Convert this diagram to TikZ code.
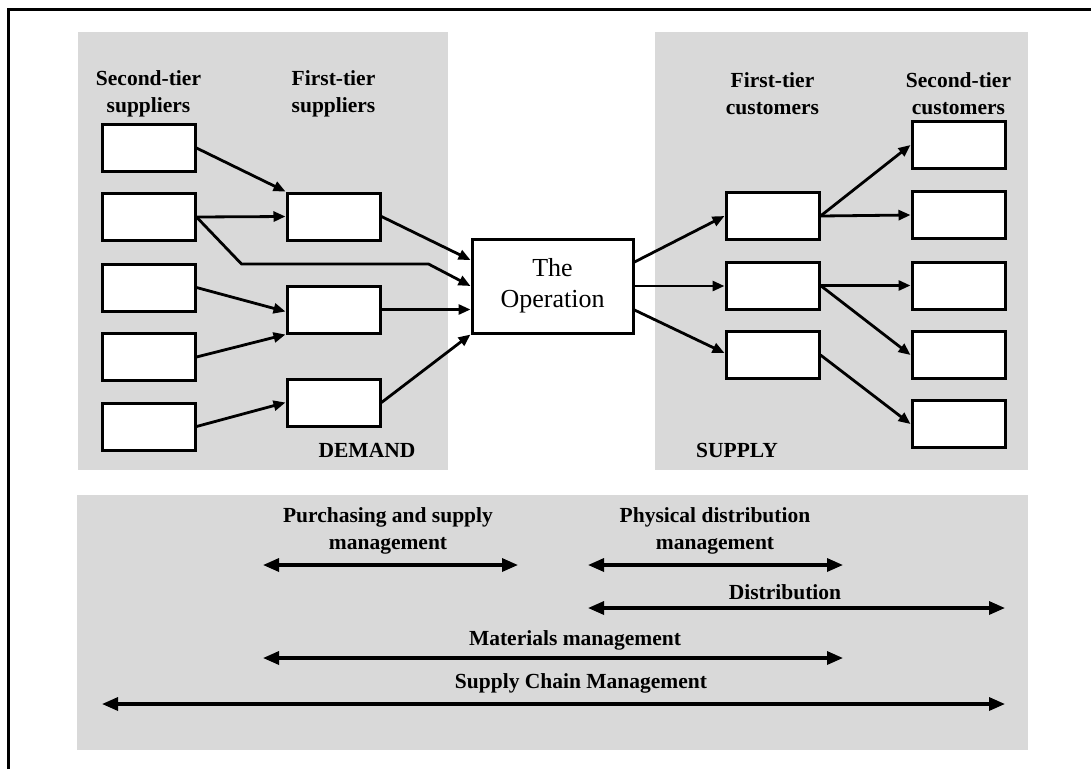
\documentclass[tikz,border=0pt]{standalone}
\usepackage{fontspec}
\setmainfont{Liberation Serif}
\usetikzlibrary{arrows.meta}
\definecolor{panel}{gray}{0.85}
\begin{document}
\begin{tikzpicture}[x=1pt,y=-1pt,
  panelfill/.style={fill=panel,draw=none},
  tierbox/.style={draw,line width=3pt,fill=white,minimum width=93pt,minimum height=47pt,inner sep=0pt},
  opbox/.style={draw,line width=3pt,fill=white,minimum width=161pt,minimum height=94pt,align=center,inner sep=0pt,font=\fontsize{26}{31}\selectfont},
  flow/.style={line width=2.8pt,-{Triangle[length=12pt,width=10pt]}},
  spanarrow/.style={line width=3.2pt,{Triangle[length=16pt,width=13pt]}-{Triangle[length=16pt,width=13pt]}},
  header/.style={align=center,inner sep=0pt,font=\bfseries\fontsize{21.5}{27}\selectfont},
  spantext/.style={align=center,inner sep=0pt,font=\bfseries\fontsize{21.5}{27}\selectfont}]
\useasboundingbox (0,0) rectangle (1091,769);

% frame
\draw[line width=3pt] (8,769) -- (8,9) -- (1091,9);

% shaded panels
\fill[panelfill] (78,32) rectangle (448,470);
\fill[panelfill] (655,32) rectangle (1028,470);
\fill[panelfill] (77,495) rectangle (1028,750);

% column headings
\node[header] (hs2) at (148.5,94) {Second-tier\\suppliers};
\node[header] (hs1) at (333.5,94) {First-tier\\suppliers};
\node[header] (hc1) at (772.5,94) {First-tier\\customers};
\node[header] (hc2) at (958.5,94) {Second-tier\\customers};
\node[header] (dem) at (367,450) {DEMAND};
\node[header] (sup) at (737,450) {SUPPLY};

% second-tier suppliers
\node[tierbox] (S1) at (148.5,148) {};
\node[tierbox] (S2) at (148.5,217) {};
\node[tierbox] (S3) at (148.5,287.5) {};
\node[tierbox] (S4) at (148.5,357) {};
\node[tierbox] (S5) at (148.5,426.5) {};
% first-tier suppliers
\node[tierbox] (F1) at (333.5,216.5) {};
\node[tierbox] (F2) at (333.5,309.5) {};
\node[tierbox] (F3) at (333.5,402.5) {};
% the operation
\node[opbox] (Op) at (552.5,286) {The\\Operation};
% first-tier customers
\node[tierbox] (C1) at (772.5,216) {};
\node[tierbox] (C2) at (772.5,285.5) {};
\node[tierbox] (C3) at (772.5,355) {};
% second-tier customers
\node[tierbox] (D1) at (958.5,145) {};
\node[tierbox] (D2) at (958.5,215) {};
\node[tierbox] (D3) at (958.5,285.5) {};
\node[tierbox] (D4) at (958.5,355) {};
\node[tierbox] (D5) at (958.5,424) {};

% supply side flows
\draw[flow] (S1.east) -- (F1.north west);
\draw[flow] (S2.east) -- (F1.west);
\draw[flow] (S2.east) -- ++(45,47) -- ++(187,0) -- (Op.west);
\draw[flow] (S3.east) -- ([yshift=-2pt]F2.west);
\draw[flow] (S4.east) -- (F2.south west);
\draw[flow] (S5.east) -- (F3.west);
\draw[flow] (F1.east) -- ([yshift=26pt]Op.west);
\draw[flow] (F2.east) -- (F2.east -| Op.west);
\draw[flow] (F3.east) -- (Op.south west);

% demand side flows
\draw[flow] ([yshift=24pt]Op.east) -- (C1.west);
\draw[flow] (Op.east) -- (Op.east -| C2.west);
\draw[flow] ([yshift=-24pt]Op.east) -- ([yshift=2pt]C3.west);
\draw[flow] (C1.east) -- (D1.west);
\draw[flow] (C1.east) -- (D2.west);
\draw[flow] (C2.east) -- (D3.west);
\draw[flow] (C2.east) -- (D4.west);
\draw[flow] (C3.east) -- (D5.west);

% management scopes
\coordinate (pa) at (263,565);  \coordinate (pb) at (518,565);
\coordinate (qa) at (588,565);  \coordinate (qb) at (843,565);
\coordinate (da) at (588,608);  \coordinate (db) at (1005,608);
\coordinate (ma) at (263,658);  \coordinate (mb) at (843,658);
\coordinate (ca) at (102,704);  \coordinate (cb) at (1005,704);
\draw[spanarrow] (pa) -- (pb);
\draw[spanarrow] (qa) -- (qb);
\draw[spanarrow] (da) -- (db);
\draw[spanarrow] (ma) -- (mb);
\draw[spanarrow] (ca) -- (cb);
\node[spantext] (tp) at (388,531) {Purchasing and supply\\management};
\node[spantext] (tq) at (715,531) {Physical distribution\\management};
\node[spantext] (td) at (785,592) {Distribution};
\node[spantext] (tm) at (575,640) {Materials management};
\node[spantext] (tc) at (581,683) {Supply Chain Management};
\end{tikzpicture}
\end{document}
